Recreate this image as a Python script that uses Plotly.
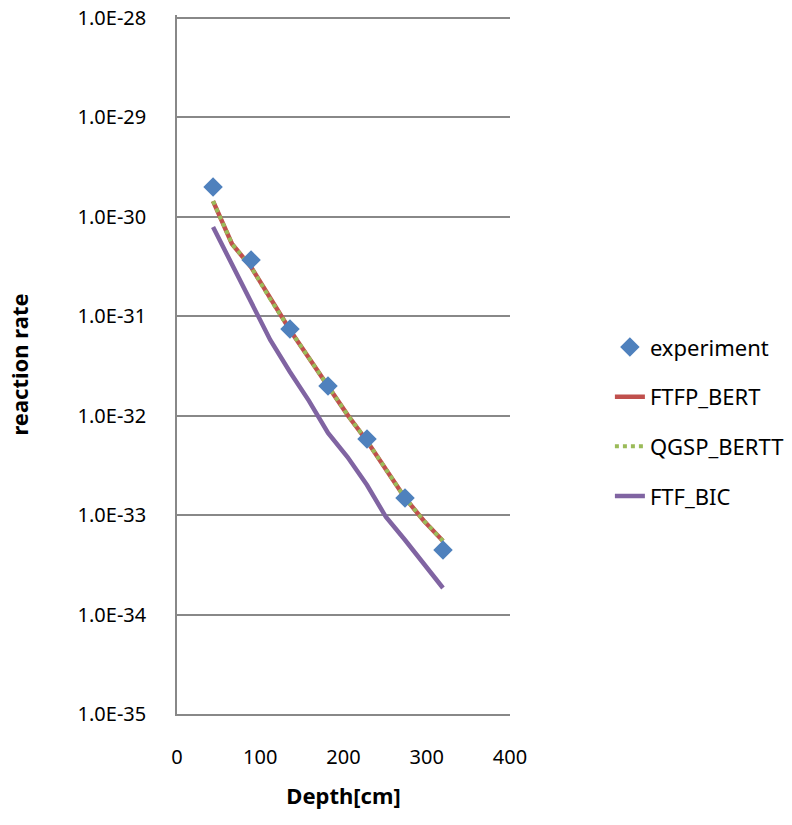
import plotly.graph_objects as go

# Measured reaction rate along depth
exp_depth = [43.3, 89.0, 135.7, 181.4, 228.2, 273.9, 319.5]
exp_rate = [2.0e-30, 3.68e-31, 7.45e-32, 1.99e-32, 5.83e-33, 1.49e-33, 4.46e-34]

# Simulated rates (physics lists)
sim_depth = [43.3, 66.1, 89.0, 112.0, 135.7, 158.5, 181.4, 204.8, 228.2, 251.0, 273.9, 296.7, 319.5]
ftfp_bert = [1.44e-30, 5.33e-31, 3.13e-31, 1.49e-31, 7.28e-32, 3.80e-32, 1.95e-32,
             1.02e-32, 5.57e-33, 2.84e-33, 1.49e-33, 8.73e-34, 5.50e-34]
qgsp_bertt = [1.44e-30, 5.33e-31, 3.13e-31, 1.49e-31, 7.28e-32, 3.80e-32, 1.95e-32,
              1.02e-32, 5.57e-33, 2.84e-33, 1.49e-33, 8.73e-34, 5.50e-34]
ftf_bic = [7.91e-31, 3.36e-31, 1.39e-31, 5.78e-32, 2.75e-32, 1.41e-32, 6.70e-33,
           3.84e-33, 2.01e-33, 9.57e-34, 5.62e-34, 3.23e-34, 1.85e-34]

x_tick_vals = [0, 100, 200, 300, 400]
y_tick_vals = [1e-28, 1e-29, 1e-30, 1e-31, 1e-32, 1e-33, 1e-34, 1e-35]
y_tick_text = ["1.0E-28", "1.0E-29", "1.0E-30", "1.0E-31", "1.0E-32", "1.0E-33", "1.0E-34", "1.0E-35"]

FONT = "Noto Sans"
GRID = "#888888"

fig = go.Figure()
fig.add_trace(go.Scatter(x=sim_depth, y=ftfp_bert, mode="lines", name="FTFP_BERT",
                         line=dict(color="#C0504D", width=4.5), legendgroup="b", legendrank=2))
fig.add_trace(go.Scatter(x=sim_depth, y=qgsp_bertt, mode="lines", name="QGSP_BERTT",
                         line=dict(color="#9BBB59", width=4, dash="dot"), legendgroup="c", legendrank=3))
fig.add_trace(go.Scatter(x=sim_depth, y=ftf_bic, mode="lines", name="FTF_BIC",
                         line=dict(color="#8064A2", width=4.5), legendgroup="d", legendrank=4))
fig.add_trace(go.Scatter(x=exp_depth, y=exp_rate, mode="markers", name="experiment",
                         marker=dict(symbol="diamond", size=15, color="#4F81BD"),
                         legendgroup="a", legendrank=1))

fig.update_layout(
    width=792, height=825,
    margin=dict(l=177, r=282, t=15, b=111, autoexpand=False),
    paper_bgcolor="white", plot_bgcolor="white",
    font=dict(family=FONT, size=20, color="black"),
    legend=dict(x=1.30, xanchor="left", xref="paper", y=0.418, yanchor="middle",
                font=dict(size=22), tracegroupgap=18, bgcolor="rgba(0,0,0,0)",
                traceorder="grouped"),
    showlegend=True,
)
fig.update_xaxes(range=[0, 400], tickvals=x_tick_vals, showgrid=False,
                 showline=True, linecolor=GRID, linewidth=1.5, zeroline=False,
                 ticks="", ticklabelstandoff=24, automargin=False,
                 tickfont=dict(size=20),
                 title=dict(text="<b>Depth[cm]</b>", font=dict(size=22), standoff=20))
fig.update_yaxes(type="log", range=[-35, -27.97], tickvals=y_tick_vals, ticktext=y_tick_text,
                 showgrid=True, gridcolor=GRID, gridwidth=1.5,
                 showline=True, linecolor=GRID, linewidth=1.5, zeroline=False,
                 ticks="", ticklabelstandoff=25, automargin=False,
                 tickfont=dict(size=20),
                 title=dict(text="<b>reaction rate</b>", font=dict(size=22), standoff=43))

fig.write_html("out.html")
